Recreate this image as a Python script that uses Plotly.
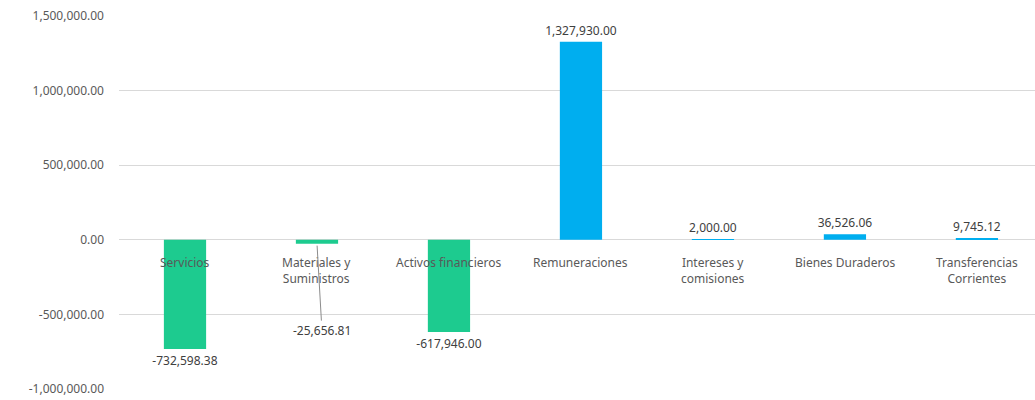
import plotly.graph_objects as go

categories = ["Servicios", "Materiales y<br>Suministros", "Activos financieros", "Remuneraciones",
              "Intereses y<br>comisiones", "Bienes Duraderos", "Transferencias<br>Corrientes"]
values = [-732598.38, -25656.81, -617946.00, 1327930.00, 2000.00, 36526.06, 9745.12]
y_ticks = [-1000000, -500000, 0, 500000, 1000000, 1500000]
y_tick_text = [f"{v:,.2f}" for v in y_ticks]

GREEN = "#1DCB8F"
BLUE = "#00AEEF"
colors = [GREEN if v < 0 else BLUE for v in values]
labels = [f"{v:,.2f}" for v in values]
text = [("" if i == 1 else t) for i, t in enumerate(labels)]

x_idx = list(range(len(categories)))

fig = go.Figure()
fig.add_trace(go.Bar(
    x=x_idx, y=values, width=0.32, marker=dict(color=colors, line=dict(width=0)),
    text=text, textposition="outside", cliponaxis=False, constraintext="none",
    textfont=dict(family="Noto Sans", size=12, color="#404040"),
    hoverinfo="skip",
))

annotations = []
for i, c in enumerate(categories):
    annotations.append(dict(x=i, y=0, xref="x", yref="y", text=c, showarrow=False,
                            yanchor="top", yshift=-12,
                            font=dict(family="Noto Sans", size=12, color="#595959")))
annotations.append(dict(x=1, y=values[1], xref="x", yref="y", text=labels[1],
                        showarrow=True, arrowhead=0, arrowwidth=1, arrowcolor="#8c8c8c",
                        ax=5, ay=87, standoff=2,
                        font=dict(family="Noto Sans", size=12, color="#404040")))

fig.update_layout(
    width=1035, height=400,
    margin=dict(l=119, r=0, t=16, b=11, autoexpand=False),
    paper_bgcolor="white", plot_bgcolor="white",
    showlegend=False,
    xaxis=dict(range=[-0.5, 6.44], showticklabels=False, showgrid=False, zeroline=False,
               showline=False, ticks=""),
    yaxis=dict(range=[-1000000, 1500000], tickvals=y_ticks, ticktext=y_tick_text,
               showgrid=True, gridcolor="#d9d9d9", gridwidth=1, zeroline=True,
               zerolinecolor="#d9d9d9", zerolinewidth=1, showline=False, ticks="",
               ticklabelstandoff=14, automargin=False,
               tickfont=dict(family="Noto Sans", size=12, color="#595959")),
    annotations=annotations,
)

fig.write_html("out.html", config={"displayModeBar": False},
               post_script="document.body.style.margin='0';")
